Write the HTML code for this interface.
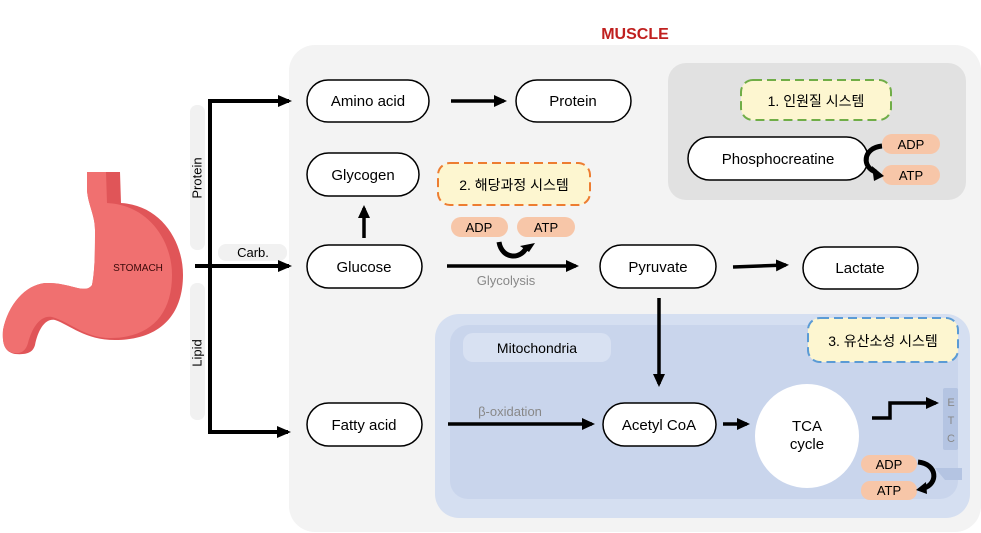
<!DOCTYPE html>
<html><head><meta charset="utf-8"><style>
html,body{margin:0;padding:0;background:#fff;}
svg{display:block;}
text{font-family:"Liberation Sans","Noto Sans CJK KR",sans-serif;}
</style></head><body>
<svg width="981" height="533" viewBox="0 0 981 533" xmlns="http://www.w3.org/2000/svg">
<defs>
<marker id="ah" markerWidth="13" markerHeight="12" refX="10" refY="6" orient="auto" markerUnits="userSpaceOnUse">
<path d="M0,0 L13,6 L0,12 Z" fill="#000"/></marker>
<marker id="ah2" markerWidth="14" markerHeight="12" refX="11" refY="6" orient="auto" markerUnits="userSpaceOnUse">
<path d="M0,0 L14,6 L0,12 Z" fill="#000"/></marker>
</defs>
<!-- muscle panel -->
<rect x="289" y="45" width="692" height="487" rx="26" fill="#f3f3f3"/>
<text x="635" y="39" text-anchor="middle" font-size="16" font-weight="bold" fill="#c0201f">MUSCLE</text>
<!-- gray box -->
<rect x="668" y="63" width="298" height="137" rx="18" fill="#e1e1e1"/>
<rect x="741" y="80" width="150" height="40" rx="12" fill="#fdf6d0" stroke="#70ad47" stroke-width="2" stroke-dasharray="9,5"/>
<text x="816" y="106" text-anchor="middle" font-size="14">1. 인원질 시스템</text>
<rect x="688" y="137" width="180" height="43" rx="21.5" fill="#fff" stroke="#000" stroke-width="1.5"/>
<text x="778" y="164" text-anchor="middle" font-size="15">Phosphocreatine</text>
<rect x="882" y="134" width="58" height="20" rx="10" fill="#f7c6a8"/>
<text x="911" y="149" text-anchor="middle" font-size="13">ADP</text>
<rect x="882" y="165" width="58" height="20" rx="10" fill="#f7c6a8"/>
<text x="911" y="180" text-anchor="middle" font-size="13">ATP</text>
<path d="M882,146 C862,148 862,168 876,172" fill="none" stroke="#000" stroke-width="5"/>
<path d="M872,166 L884,176 L874,181 Z" fill="#000"/>
<!-- mitochondria -->
<rect x="435" y="314" width="535" height="204" rx="24" fill="#d5dff1"/>
<rect x="450" y="325" width="508" height="174" rx="18" fill="#c9d5ec"/>
<rect x="463" y="333" width="148" height="29" rx="10" fill="#d8e1f2"/>
<text x="537" y="353" text-anchor="middle" font-size="14">Mitochondria</text>
<rect x="808" y="318" width="150" height="44" rx="12" fill="#fdf6d0" stroke="#5b9bd5" stroke-width="2" stroke-dasharray="9,5"/>
<text x="883" y="346" text-anchor="middle" font-size="14">3. 유산소성 시스템</text>
<circle cx="807" cy="436" r="52" fill="#fff"/>
<text x="807" y="431" text-anchor="middle" font-size="15">TCA</text>
<text x="807" y="449" text-anchor="middle" font-size="15">cycle</text>
<rect x="943" y="388" width="15" height="62" rx="2" fill="#b4c4e2"/>
<text x="951" y="406" text-anchor="middle" font-size="11" fill="#888">E</text>
<text x="951" y="424" text-anchor="middle" font-size="11" fill="#888">T</text>
<text x="951" y="442" text-anchor="middle" font-size="11" fill="#888">C</text>
<path d="M935,468 L962,468 L962,480 L945,480 Z" fill="#b4c4e2"/>
<path d="M872,418 L890,418 L890,403 L936,403" fill="none" stroke="#000" stroke-width="3.5" marker-end="url(#ah)"/>
<rect x="861" y="455" width="56" height="18" rx="9" fill="#f7c6a8"/>
<text x="889" y="469" text-anchor="middle" font-size="13">ADP</text>
<rect x="861" y="481" width="56" height="19" rx="9" fill="#f7c6a8"/>
<text x="889" y="495" text-anchor="middle" font-size="13">ATP</text>
<path d="M918,462 C938,464 938,484 924,488" fill="none" stroke="#000" stroke-width="5"/>
<path d="M926,482 L916,490 L927,494 Z" fill="#000"/>
<!-- nodes -->
<g fill="#fff" stroke="#000" stroke-width="1.5">
<rect x="307" y="80" width="122" height="42" rx="21"/>
<rect x="516" y="80" width="115" height="42" rx="21"/>
<rect x="307" y="153" width="112" height="43" rx="21.5"/>
<rect x="307" y="245" width="115" height="43" rx="21.5"/>
<rect x="600" y="245" width="116" height="43" rx="21.5"/>
<rect x="803" y="247" width="115" height="42" rx="21"/>
<rect x="307" y="403" width="115" height="43" rx="21.5"/>
<rect x="603" y="403" width="113" height="43" rx="21.5"/>
</g>
<g font-size="15" text-anchor="middle">
<text x="368" y="106">Amino acid</text>
<text x="573" y="106">Protein</text>
<text x="363" y="180">Glycogen</text>
<text x="364" y="272">Glucose</text>
<text x="658" y="272">Pyruvate</text>
<text x="860" y="273">Lactate</text>
<text x="364" y="430">Fatty acid</text>
<text x="659" y="430">Acetyl CoA</text>
</g>
<!-- label 2 -->
<rect x="438" y="163" width="152" height="42" rx="12" fill="#fdf6d0" stroke="#ed7d31" stroke-width="2" stroke-dasharray="9,5"/>
<text x="514" y="190" text-anchor="middle" font-size="14">2. 해당과정 시스템</text>
<rect x="451" y="217" width="57" height="20" rx="10" fill="#f7c6a8"/>
<text x="479" y="232" text-anchor="middle" font-size="13">ADP</text>
<rect x="517" y="217" width="58" height="20" rx="10" fill="#f7c6a8"/>
<text x="546" y="232" text-anchor="middle" font-size="13">ATP</text>
<path d="M499,242 C502,260 522,260 527,246" fill="none" stroke="#000" stroke-width="5"/>
<path d="M520,246 L535,243 L529,252 Z" fill="#000"/>
<!-- arrows -->
<g stroke="#000" stroke-width="3.5" fill="none">
<line x1="451" y1="101" x2="504" y2="101" marker-end="url(#ah)"/>
<line x1="364" y1="238" x2="364" y2="208" marker-end="url(#ah)"/>
<line x1="447" y1="266" x2="576" y2="266" marker-end="url(#ah)"/>
<line x1="733" y1="267" x2="786" y2="265" marker-end="url(#ah)"/>
<line x1="659" y1="298" x2="659" y2="384" marker-end="url(#ah)"/>
<line x1="448" y1="424" x2="592" y2="424" marker-end="url(#ah)"/>
<line x1="723" y1="424" x2="747" y2="424" marker-end="url(#ah)"/>
</g>
<text x="506" y="285" text-anchor="middle" font-size="13" fill="#888">Glycolysis</text>
<text x="510" y="416" text-anchor="middle" font-size="13" fill="#888">β-oxidation</text>
<!-- left side -->
<rect x="190" y="105" width="15" height="145" rx="7" fill="#f1f1f1"/>
<rect x="190" y="283" width="15" height="137" rx="7" fill="#f1f1f1"/>
<rect x="218" y="244" width="69" height="17" rx="8" fill="#f1f1f1"/>
<text x="198" y="178" text-anchor="middle" font-size="13" transform="rotate(-90 198 178)" dominant-baseline="middle">Protein</text>
<text x="198" y="353" text-anchor="middle" font-size="13" transform="rotate(-90 198 353)" dominant-baseline="middle">Lipid</text>
<text x="253" y="257" text-anchor="middle" font-size="13">Carb.</text>
<g stroke="#000" stroke-width="4" fill="none">
<polyline points="288,101 210,101 210,432 288,432" marker-end="url(#ah2)"/>
<line x1="210" y1="101" x2="289" y2="101" marker-end="url(#ah2)"/>
<line x1="195" y1="266" x2="289" y2="266" marker-end="url(#ah2)"/>
</g>
<!-- stomach -->
<path d="M87,172 L120,172 L121,203 C160,205 183,240 183,275 C183,315 160,340 115,340 C85,340 70,325 55,320 C45,318 38,330 35,345 C33,352 28,355 15,354 C5,352 2,345 3,330 C8,305 25,285 45,283 C70,282 85,295 92,285 C95,270 95,250 95,230 C95,215 88,205 87,190 Z" fill="#e05558"/>
<path d="M87,172 L106,172 L107,203 C148,205 172,240 172,275 C172,315 150,338 110,338 C85,338 70,322 52,317 C40,315 32,328 28,343 C26,350 22,354 14,353 C5,351 2,345 3,330 C8,305 25,285 45,283 C70,282 85,295 92,285 C95,270 95,250 95,230 C95,215 88,205 87,190 Z" fill="#f07070"/>
<text x="138" y="271" text-anchor="middle" font-size="10" fill="#3a0a0a">STOMACH</text>
</svg>
</body></html>
